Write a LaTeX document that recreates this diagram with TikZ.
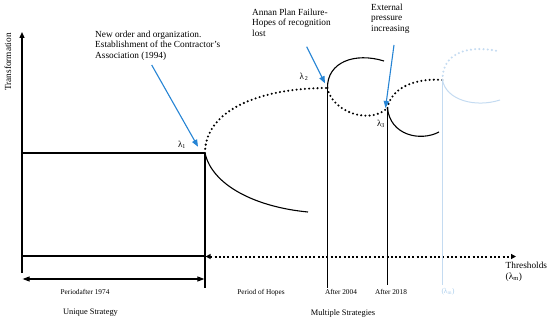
\documentclass[tikz,border=0pt]{standalone}
\usepackage{fontspec}
\setmainfont{Liberation Serif}
\usepackage{xcolor}
\usetikzlibrary{arrows.meta,positioning}
\definecolor{pointblue}{RGB}{38,132,212}
\definecolor{fadeblue}{RGB}{196,219,241}
\tikzset{
  axis/.style={
    line width=1.2pt,
    -{Triangle[length=6pt,width=5pt]}
  },
  curve/.style={
    line width=1.1pt
  },
  dotcurve/.style={
    line width=2.3pt,
    line cap=round,
    dash pattern=on 0pt off 4.2pt
  },
  dotline/.style={
    line width=2pt,
    dash pattern=on 2pt off 2.3pt
  },
  pointer/.style={
    draw=pointblue,
    line width=1.1pt,
    -{Triangle[length=7pt,width=5.5pt]}
  },
  note/.style={
    align=left,
    inner sep=0pt,
    anchor=north west,
    font=\fontsize{9.3}{10.5}\selectfont
  },
  period/.style={
    inner sep=0pt,
    font=\fontsize{7.3}{8}\selectfont
  },
  strategy/.style={
    inner sep=0pt,
    font=\fontsize{8.4}{9}\selectfont
  },
  lam/.style={
    inner sep=0pt,
    font=\fontsize{9}{10}\selectfont
  }
}

\begin{document}
\begin{tikzpicture}[x=1pt,y=-1pt]
\useasboundingbox (0,0) rectangle (550,321);

% thresholds on the curves
\coordinate (origin) at (22,273);
\coordinate (ytop) at (22,32);
\coordinate (l1) at (205,153);
\coordinate (l2) at (327.5,88);
\coordinate (l3) at (387.5,108);
\coordinate (ln) at (442.5,80);

% axes and the first period
\draw[axis] (origin) -- (ytop);
\draw[curve] (22,153) -- (l1);
\draw[curve] (22,256) -- (205,256);
\draw[curve] (l1) -- (205,288);
\draw[line width=1.1pt, {Triangle[length=7pt,width=5pt]}-{Triangle[length=7pt,width=5pt]}] (22.6,279) -- (204.4,279);
\draw[dotline, {Triangle[length=5pt,width=5pt]}-{Triangle[length=5pt,width=5pt]}] (205.6,256.5) -- (516,256.5);

% branches
\draw[dotcurve] (l1) .. controls (205,110) and (260,88) .. (l2);
\draw[curve] (l1) .. controls (212,185) and (255,207) .. (308,212);
\draw[curve] (l2) .. controls (327,62) and (355,52) .. (384,61);
\draw[dotcurve] (l2) .. controls (332,112) and (370,125) .. (l3);
\draw[dotcurve] (l3) .. controls (392,85) and (420,78) .. (ln);
\draw[curve] (l3) .. controls (390,135) and (420,142) .. (439,132);
\draw[curve] (l2) -- (327.5,288);
\draw[curve] (l3) -- (387.5,285);

% faded next threshold
\draw[dotcurve, fadeblue] (ln) .. controls (442,52) and (470,45) .. (497,51);
\draw[curve, fadeblue, line width=1pt] (ln) .. controls (446,100) and (475,108) .. (500,100);
\draw[fadeblue, line width=1pt] (ln) -- (442.5,285);

% notes
\node[note] (noteone) at (95,30.5) {New order and organization.\\Establishment of the Contractor’s\\Association (1994)};
\node[note] (notetwo) at (252,8.5) {Annan Plan Failure-\\Hopes of recognition\\lost};
\node[note] (notethree) at (371,3.5) {External\\pressure\\increasing};
\node[note] (thresh) at (505.5,262) {Thresholds\\(λ\textsubscript{m})};
\node[rotate=90, inner sep=0pt, font=\fontsize{9.3}{10}\selectfont] (ylabel) at (8,62) {Transformation};

\coordinate (s1) at (151.7,65);
\coordinate (s2) at (306.7,46.7);
\coordinate (s3) at (394,45);
\draw[pointer] (s1) -- (198,146.7);
\draw[pointer] (s2) -- (325,83.3);
\draw[pointer] (s3) -- (385.5,108);

\node[lam] (lone) at (182,145) {λ\textsubscript{1}};
\node[lam] (ltwo) at (304,77) {λ\textsubscript{\,2}};
\node[lam] (lthree) at (381,124) {λ\textsubscript{3}};

% periods
\node[period] (pone) at (85,292) {Periodafter 1974};
\node[period] (ptwo) at (261,293) {Period of Hopes};
\node[period] (pthree) at (341,292) {After 2004};
\node[period] (pfour) at (391,292) {After 2018};
\node[period, text=fadeblue!80!pointblue] (pfive) at (448,292) {(λ\textsubscript{m})};
\node[strategy] (sone) at (90.5,312.5) {Unique Strategy};
\node[strategy] (stwo) at (343,313) {Multiple Strategies};

\end{tikzpicture}
\end{document}
